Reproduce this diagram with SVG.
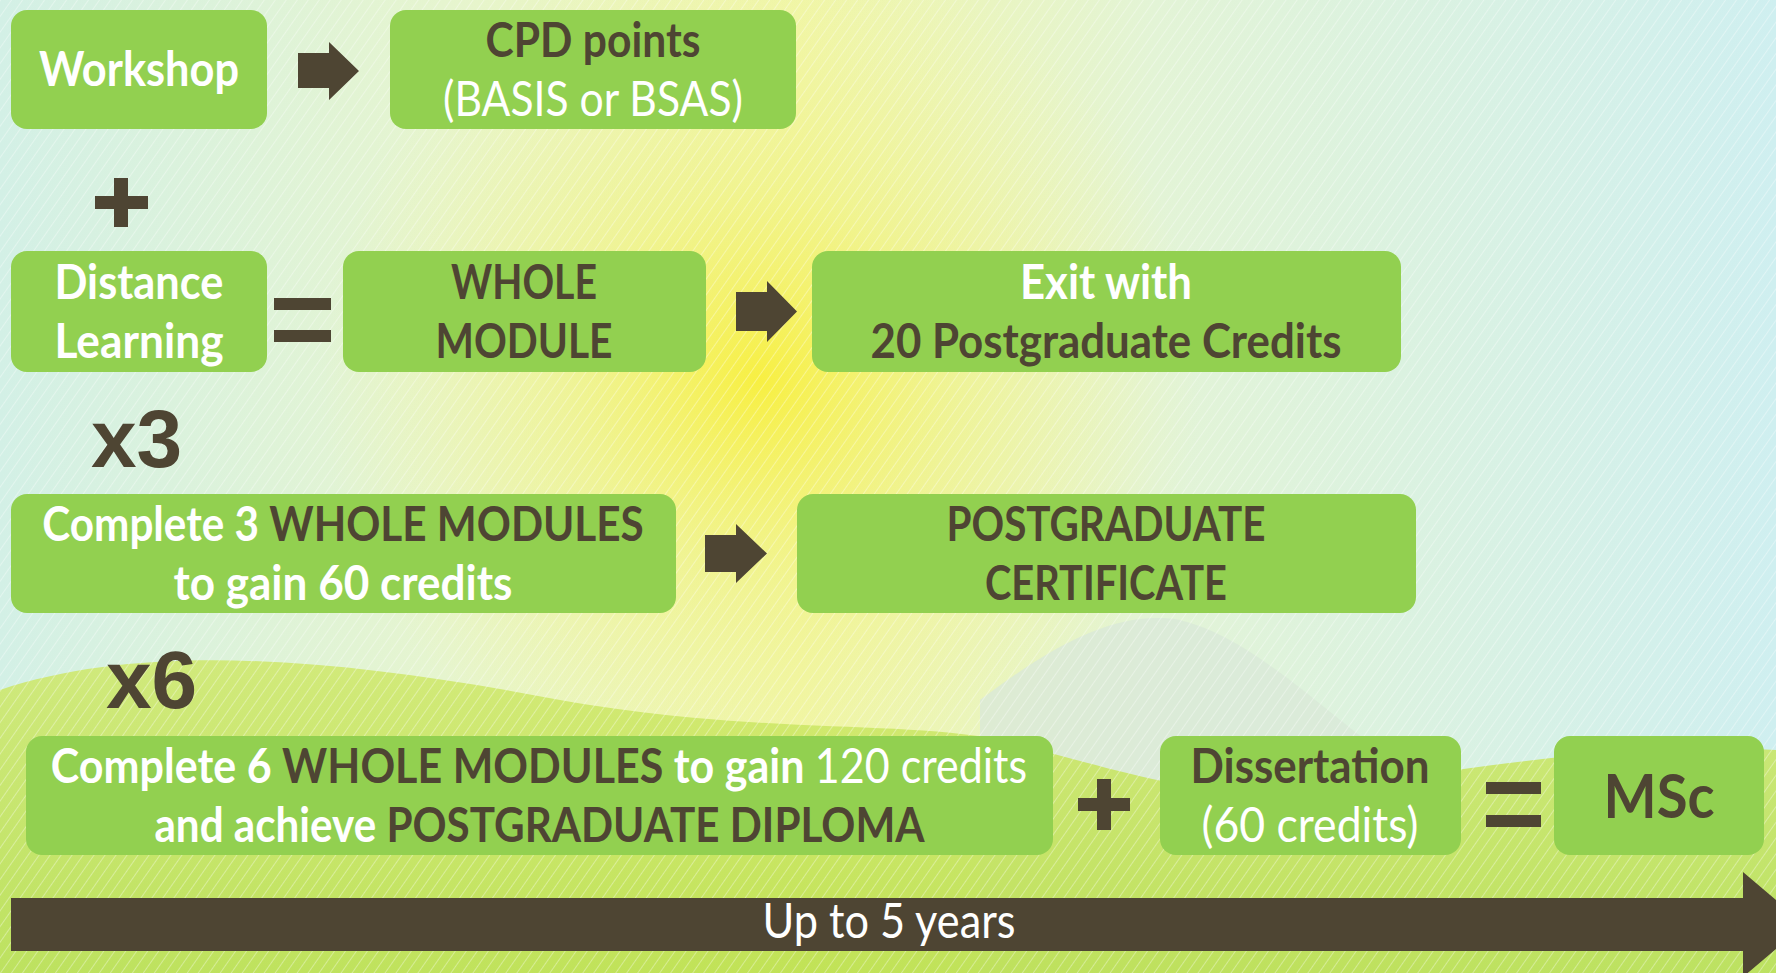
<svg xmlns="http://www.w3.org/2000/svg" width="1776" height="973" viewBox="0 0 1776 973">
<defs>
<style>
.box{fill:#92D050}
.t{font-family:Lato,"Open Sans","Liberation Sans",sans-serif;font-weight:bold;font-size:48px;text-anchor:middle}
.w{fill:#FFFFFF}
.d{fill:#4E4533}
.r{font-weight:normal}
.sym{fill:#4E4533}
.big{font-family:"Liberation Sans",Arial,sans-serif;font-weight:bold;font-size:82px;fill:#4E4533}
</style>
<linearGradient id="bgH" x1="0" y1="0" x2="1" y2="0">
<stop offset="0" stop-color="#d3f0e6"/>
<stop offset="0.25" stop-color="#e6f5cf"/>
<stop offset="0.45" stop-color="#f0f6a8"/>
<stop offset="0.65" stop-color="#e3f4d6"/>
<stop offset="1" stop-color="#cfeff0"/>
</linearGradient>
<radialGradient id="sun" cx="760" cy="380" r="440" gradientUnits="userSpaceOnUse">
<stop offset="0" stop-color="#f8ef3c" stop-opacity="0.95"/>
<stop offset="0.45" stop-color="#f2f27a" stop-opacity="0.55"/>
<stop offset="1" stop-color="#f4f4a0" stop-opacity="0"/>
</radialGradient>
<linearGradient id="hill" x1="0" y1="0" x2="0" y2="1">
<stop offset="0" stop-color="#cfe86a"/>
<stop offset="1" stop-color="#b9df48"/>
</linearGradient>
<pattern id="hatch" width="9" height="9" patternUnits="userSpaceOnUse" patternTransform="rotate(35)">
<rect width="9" height="9" fill="none"/>
<line x1="0" y1="0" x2="0" y2="9" stroke="#ffffff" stroke-width="2" stroke-opacity="0.35"/>
</pattern>
</defs>

<g id="background">
<rect width="1776" height="973" fill="url(#bgH)"/>
<rect width="1776" height="973" fill="url(#sun)"/>
<path d="M980,700 C1060,640 1120,610 1180,620 C1260,640 1330,720 1420,780 L1420,973 L980,973 Z" fill="#d9e8d8" opacity="0.8"/>
<path d="M0,690 C150,640 350,660 560,700 C760,735 900,720 1000,740 C1120,770 1200,800 1300,790 C1450,775 1600,740 1776,750 L1776,973 L0,973 Z" fill="url(#hill)" opacity="0.85"/>
<rect width="1776" height="973" fill="url(#hatch)"/>
</g>

<g id="connectors">
<polygon class="sym" points="298,53 329,53 329,42 359,71 329,100 329,88 298,88"/>
<polygon class="sym" points="736,292 767,292 767,281 797,311.5 767,342 767,331 736,331"/>
<polygon class="sym" points="705,535 736,535 736,524 767,553.5 736,583 736,572 705,572"/>
<polygon class="sym" points="11,898 1743,898 1743,872 1805,924.5 1743,977 1743,951 11,951"/>
<g id="plus1"><rect class="sym" x="114" y="178" width="14" height="49"/><rect class="sym" x="95" y="196" width="53" height="13"/></g>
<g id="eq1"><rect class="sym" x="274" y="298" width="57" height="12"/><rect class="sym" x="274" y="330" width="57" height="12"/></g>
<g id="plus2"><rect class="sym" x="1097" y="779" width="14" height="51"/><rect class="sym" x="1078" y="798" width="52" height="13"/></g>
<g id="eq2"><rect class="sym" x="1486" y="782" width="55" height="12"/><rect class="sym" x="1486" y="815" width="55" height="12"/></g>
<text class="t w r" x="889" y="938" textLength="253" lengthAdjust="spacingAndGlyphs">Up to 5 years</text>
</g>

<g id="workshop">
<rect class="box" x="11" y="10" width="256" height="119" rx="16"/>
<text class="t w" x="139" y="86" textLength="200" lengthAdjust="spacingAndGlyphs">Workshop</text>
</g>
<g id="cpd">
<rect class="box" x="390" y="10" width="406" height="119" rx="16"/>
<text class="t d" x="593" y="57" textLength="215" lengthAdjust="spacingAndGlyphs">CPD points</text>
<text class="t w r" x="593" y="116" textLength="300" lengthAdjust="spacingAndGlyphs">(BASIS or BSAS)</text>
</g>
<g id="distance">
<rect class="box" x="11" y="251" width="256" height="121" rx="16"/>
<text class="t w" x="139" y="299" textLength="169" lengthAdjust="spacingAndGlyphs">Distance</text>
<text class="t w" x="139" y="358" textLength="169" lengthAdjust="spacingAndGlyphs">Learning</text>
</g>
<g id="whole">
<rect class="box" x="343" y="251" width="363" height="121" rx="16"/>
<text class="t d" x="524" y="299" textLength="146" lengthAdjust="spacingAndGlyphs">WHOLE</text>
<text class="t d" x="524" y="358" textLength="177" lengthAdjust="spacingAndGlyphs">MODULE</text>
</g>
<g id="exit">
<rect class="box" x="812" y="251" width="589" height="121" rx="16"/>
<text class="t w" x="1106" y="299" textLength="172" lengthAdjust="spacingAndGlyphs">Exit with</text>
<text class="t d" x="1106" y="358" textLength="471" lengthAdjust="spacingAndGlyphs">20 Postgraduate Credits</text>
</g>
<g id="x3"><text class="big" x="91" y="467">x3</text></g>
<g id="complete3">
<rect class="box" x="11" y="494" width="665" height="119" rx="16"/>
<text class="t w" transform="translate(343,541) scale(0.88,1)" x="0" y="0">Complete 3 <tspan class="d">WHOLE MODULES</tspan></text>
<text class="t w" x="343" y="600" textLength="339" lengthAdjust="spacingAndGlyphs">to gain 60 credits</text>
</g>
<g id="pgcert">
<rect class="box" x="797" y="494" width="619" height="119" rx="16"/>
<text class="t d" x="1106" y="541" textLength="319" lengthAdjust="spacingAndGlyphs">POSTGRADUATE</text>
<text class="t d" x="1106" y="600" textLength="242" lengthAdjust="spacingAndGlyphs">CERTIFICATE</text>
</g>
<g id="x6"><text class="big" x="106" y="708">x6</text></g>
<g id="complete6">
<rect class="box" x="26" y="736" width="1027" height="119" rx="16"/>
<text class="t w" transform="translate(539,783) scale(0.896,1)" x="0" y="0">Complete 6 <tspan class="d">WHOLE MODULES</tspan> to gain <tspan class="r">120 credits</tspan></text>
<text class="t w" transform="translate(539.5,842) scale(0.879,1)" x="0" y="0">and achieve <tspan class="d">POSTGRADUATE DIPLOMA</tspan></text>
</g>
<g id="dissertation">
<rect class="box" x="1160" y="736" width="301" height="119" rx="16"/>
<text class="t d" x="1310" y="783" textLength="239" lengthAdjust="spacingAndGlyphs">Dissertation</text>
<text class="t w r" x="1310" y="842" textLength="217" lengthAdjust="spacingAndGlyphs">(60 credits)</text>
</g>
<g id="msc">
<rect class="box" x="1554" y="736" width="210" height="119" rx="16"/>
<text class="t d" x="1659" y="818" style="font-size:62px" textLength="111" lengthAdjust="spacingAndGlyphs">MSc</text>
</g>
</svg>
